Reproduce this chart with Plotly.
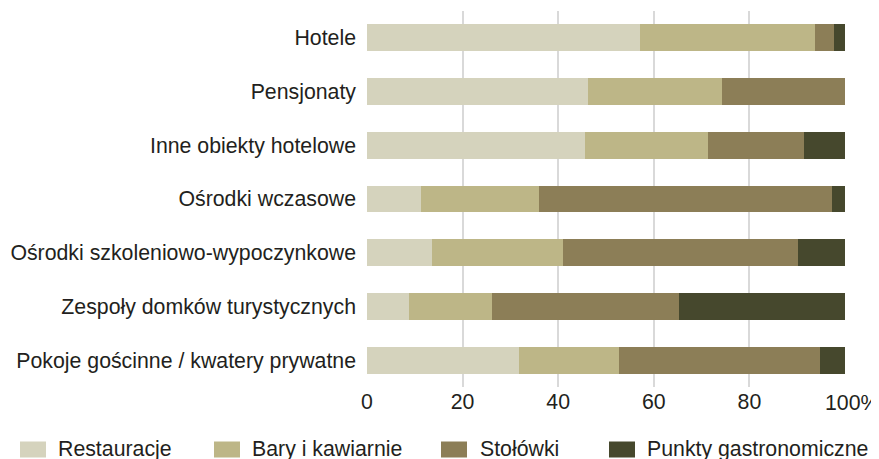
import plotly.graph_objects as go

categories = ["Hotele", "Pensjonaty", "Inne obiekty hotelowe", "Ośrodki wczasowe",
              "Ośrodki szkoleniowo-wypoczynkowe", "Zespoły domków turystycznych",
              "Pokoje gościnne / kwatery prywatne"]
series_names = ["Restauracje", "Bary i kawiarnie", "Stołówki", "Punkty gastronomiczne"]
restauracje = [57.1, 46.2, 45.6, 11.2, 13.7, 8.7, 31.7]
bary = [36.6, 28.0, 25.7, 24.7, 27.2, 17.4, 21.0]
stolowki = [4.0, 25.8, 20.1, 61.3, 49.2, 39.1, 42.0]
punkty = [2.3, 0.0, 8.6, 2.8, 9.9, 34.8, 5.3]
tick_vals = [0, 20, 40, 60, 80, 100]
tick_text = ["0", "20", "40", "60", "80", "100%"]

colors = ["#d5d3bd", "#bdb687", "#8c7e57", "#46482d"]
W, H = 879, 459
OFF = 8  # browser body margin
ML, MR, MT, MB = 359, 42, 3, 80
FONT = "Liberation Sans, Arial, sans-serif"
FS = 21.3
TXT = "#231f20"

fig = go.Figure()
for name, vals, col in zip(series_names, [restauracje, bary, stolowki, punkty], colors):
    fig.add_trace(go.Bar(y=categories, x=vals, name=name, orientation="h",
                         marker=dict(color=col, line=dict(width=0)), showlegend=False))

pw = W - ML - MR
ph = H - MT - MB
def px_x(x):
    return (x - OFF - ML) / pw
def px_y(y):
    return (H - MB - (y - OFF)) / ph

shapes = []
annotations = []
sw_x = [20, 214, 441, 609]
tx_x = [56, 250, 478, 645]
for i, name in enumerate(series_names):
    shapes.append(dict(type="rect", xref="paper", yref="paper",
                       x0=px_x(sw_x[i]), x1=px_x(sw_x[i] + 26),
                       y0=px_y(457.5), y1=px_y(441.5),
                       fillcolor=colors[i], line=dict(width=0)))
    annotations.append(dict(text=name, xref="paper", yref="paper",
                            x=px_x(tx_x[i]), y=px_y(449), xanchor="left", yanchor="middle",
                            showarrow=False, font=dict(family=FONT, size=FS, color=TXT)))
# last tick label: "100" centred on the gridline with the "%" trailing, as in the reference
annotations.append(dict(text=tick_text[-1], xref="x", yref="paper", x=tick_vals[-1], y=px_y(403),
                        xanchor="left", yanchor="middle", xshift=-21, showarrow=False,
                        borderpad=0, font=dict(family=FONT, size=FS, color=TXT)))
axis_text = tick_text[:-1] + [""]

fig.update_layout(
    width=W, height=H, barmode="stack", bargap=0.5,
    margin=dict(l=ML, r=MR, t=MT, b=MB, pad=0),
    paper_bgcolor="white", plot_bgcolor="white",
    font=dict(family=FONT, size=FS, color=TXT),
    xaxis=dict(range=[0, 100], tickvals=tick_vals, ticktext=axis_text,
               showgrid=True, gridcolor="#d9d9d9", gridwidth=2, zeroline=False,
               showline=False, ticks="", tickfont=dict(size=FS, color=TXT)),
    yaxis=dict(autorange="reversed", showgrid=False, zeroline=False, showline=False,
               ticks="", ticklabelstandoff=10, tickfont=dict(size=FS, color=TXT)),
    shapes=shapes, annotations=annotations,
)
fig.write_html("out.html")
